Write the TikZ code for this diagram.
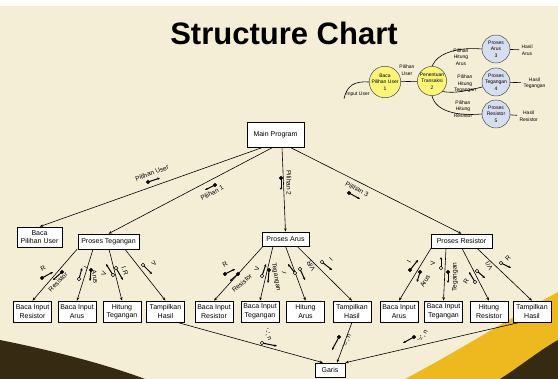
\documentclass[tikz,border=0pt]{standalone}
\usepackage{fontspec}
\setmainfont{Liberation Sans}
\usetikzlibrary{arrows.meta, positioning}

\definecolor{slidebg}{RGB}{244,238,215}
\definecolor{bubyel}{RGB}{250,245,120}
\definecolor{bubblue}{RGB}{215,222,240}
\definecolor{swdark}{RGB}{55,42,18}
\definecolor{swgold}{RGB}{238,185,30}

\tikzset{
  modul/.style={draw, fill=white, line width=0.6pt, align=center, font=\fontsize{7}{8.5}\selectfont, inner sep=1pt},
  bubble/.style={circle, draw=black!70, line width=0.5pt, minimum size=28pt, inner sep=0pt, align=center, font=\fontsize{5}{6.5}\selectfont},
  tiny/.style={align=center, font=\fontsize{5}{6.5}\selectfont, inner sep=0.5pt, outer sep=2pt},
  lbl/.style={font=\fontsize{6.5}{7.5}\selectfont, inner sep=0.5pt},
  call/.style={-{Stealth[length=3.5pt,width=2.6pt]}, line width=0.6pt},
  flow/.style={line width=0.6pt},
  cpl/.style={-{Stealth[length=2.6pt,width=2.4pt]}, line width=1pt},
}

\begin{document}
\begin{tikzpicture}[x=1pt, y=-1pt]
  \useasboundingbox (0,0) rectangle (558,379);
  % slide background
  \fill[white] (0,0) rectangle (558,379);
  \fill[slidebg] (0,6) rectangle (558,379);
  \fill[swdark] (0,340) .. controls (40,348) and (100,362) .. (145,379) -- (0,379) -- cycle;
  \fill[swgold] (405,379) .. controls (460,350) and (510,318) .. (558,292) -- (558,379) -- cycle;
  \fill[swdark] (500,379) .. controls (522,365) and (540,350) .. (558,340) -- (558,379) -- cycle;

  \node[font=\fontsize{31}{31}\bfseries\selectfont] (title) at (284,33) {Structure Chart};

  % DFD
  \node[bubble, fill=bubyel] (c1) at (385,82) {Baca\\Pilihan User\\1};
  \node[bubble, fill=bubyel] (c2) at (432,81) {Penentuan\\Transaksi\\2};
  \node[bubble, fill=bubblue] (c3) at (496,49) {Proses\\Arus\\3};
  \node[bubble, fill=bubblue] (c4) at (496,82) {Proses\\Tegangan\\4};
  \node[bubble, fill=bubblue] (c5) at (496,114) {Proses\\Resistor\\5};
  \node[tiny, anchor=west] (hasA) at (519,50) {Hasil\\Arus};
  \node[tiny, anchor=west] (hasT) at (521,83) {Hasil\\Tegangan};
  \node[tiny, anchor=west] (hasR) at (517,116) {Hasil\\Resistor};
  \node[tiny] (inp) at (358,94) {Input User};
  \node[tiny] at (407,70) {Pilihan\\User};
  \node[tiny] at (461,57) {Pilihan\\Hitung\\Arus};
  \node[tiny] at (465,84) {Pilihan\\Hitung\\Tegangan};
  \node[tiny] at (463,109) {Pilihan\\Hitung\\Resistor};

  \draw[flow] (inp.south west) .. controls (347,85) and (355,81) .. (c1.west);
  \draw[flow] (c1) -- (c2);
  \draw[flow] (c2.north) .. controls (438,52) and (460,47) .. (c3.west);
  \draw[flow] (c2.south east) .. controls (455,94) and (470,90) .. (c4.200);
  \draw[flow] (c2.south) .. controls (436,112) and (458,116) .. (c5.west);
  \draw[flow] (c3) -- (hasA);
  \draw[flow] (c4) -- (hasT);
  \draw[flow] (c5) -- (hasR);

  % structure chart
  \node[modul, minimum width=57pt, minimum height=25pt] (main) at (275.5,134.5) {Main Program};
  \node[modul, minimum width=45pt, minimum height=20pt] (bpu) at (39.5,237) {Baca\\Pilihan User};
  \node[modul, minimum width=61pt, minimum height=15pt] (pt) at (108.5,241.5) {Proses Tegangan};
  \node[modul, minimum width=47pt, minimum height=14pt] (pa) at (285.5,239) {Proses Arus};
  \node[modul, minimum width=61pt, minimum height=14pt] (pr) at (461.5,241) {Proses Resistor};
  \node[modul, minimum width=30pt, minimum height=14pt] (garis) at (330,370) {Garis};

  \foreach \n/\x/\t in {bir1/32.5/Baca Input\\Resistor, bia1/77/Baca Input\\Arus, ht/122/Hitung\\Tegangan, th1/165.5/Tampilkan\\Hasil,
                        bir2/214/Baca Input\\Resistor, bit2/260/Baca Input\\Tegangan, ha/305.5/Hitung\\Arus, th2/352/Tampilkan\\Hasil,
                        bia3/399/Baca Input\\Arus, bit3/443.5/Baca Input\\Tegangan, hr/489/Hitung\\Resistor, th3/532/Tampilkan\\Hasil} {
    \node[modul, minimum width=38pt, minimum height=21pt] (\n) at (\x,311.5) {\t};
  }

  \foreach \s/\c in {-12.5/bpu, -2.5/pt, 6.5/pa, 14.5/pr}
    \draw[call] ([xshift=\s pt]main.south) -- (\c.north);
  \foreach \s/\c in {-31.5/bir1, -15.5/bia1, 0.5/ht, 16.5/th1}
    \draw[call] ([xshift=\s pt]pt.south) -- (\c.north);
  \foreach \s/\c in {-22.5/bir2, -12.5/bit2, 0/ha, 11.5/th2}
    \draw[call] ([xshift=\s pt]pa.south) -- (\c.north);
  \foreach \s/\c in {-30.5/bia3, -15.5/bit3, 0.5/hr, 15.5/th3}
    \draw[call] ([xshift=\s pt]pr.south) -- (\c.north);
  \draw[call] ([xshift=11.5pt]th1.south) -- ([xshift=-7pt]garis.north);
  \draw[call] (th2.south) -- ([xshift=7pt]garis.north);
  \draw[call] ([xshift=-12pt]th3.south) -- (garis.north east);

  % couples
  \foreach \ax/\ay/\bx/\by/\f in {
      148/182/160/178/black, 215/185/205/190/black, 281/178/281/190/black, 349/193/360/199/black,
      42/278/53/272/black, 62/272/53/280/black, 79/279/82/268/white, 91/270/90/281/black,
      113/275/106/264/white, 116/268/123/280/white, 143/265/152/274/white,
      225/274/235/269/black, 238/274/230/281/black, 262/276/266/264/white, 269/270/268/283/black,
      295/273/288/264/white, 300/269/305/280/white, 322/262/332/270/white,
      410/270/418/260/black, 420/272/417/282/black, 441/268/441/257/white, 448/272/448/283/black,
      475/282/469/272/white, 477/271/485/278/white, 501/263/511/268/white,
      262/343/277/346/white, 339/337/332/350/black, 414/337/403/343/black} {
    \draw[cpl] (\ax,\ay) -- (\bx,\by);
    \filldraw[fill=\f, line width=0.6pt] (\ax,\ay) circle (1.7);
  }

  \foreach \x/\y/\r/\t in {
      152/173/20/Pilihan User, 212/193/28/Pilihan 1, 289/183/-90/Pilihan 2, 357/189/-27/Pilihan 3,
      43/268/30/R, 58/282/45/Resistor, 86/268/60/I, 95/277/-80/Arus, 104/274/70/V, 125/271/-70/I.R, 154/263/45/V,
      225/264/30/R, 242/283/40/Resistor, 257/269/75/V, 276/277/-80/Tegangan, 284/273/70/I, 311/266/120/{V/R}, 331/259/45/I,
      409/262/60/I, 425/281/60/Arus, 433/263/90/V, 455/277/90/Tegangan, 466/281/60/R, 489/266/120/{V/I}, 508/258/45/R,
      268/335/-70/{'-', n}, 347/341/70/{'=', n}, 423/336/60/{'=', n}}
    \node[lbl, rotate=\r] at (\x,\y) {\t};
\end{tikzpicture}
\end{document}
